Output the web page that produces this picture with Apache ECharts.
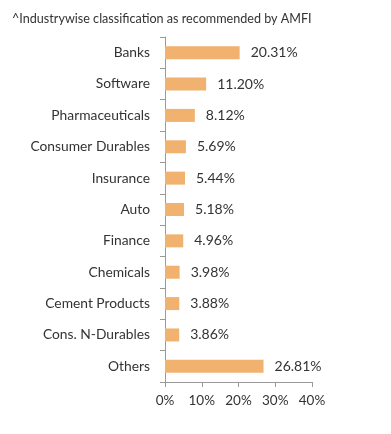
<!DOCTYPE html>
<html><head><meta charset="utf-8">
<script src="https://cdn.jsdelivr.net/npm/echarts@6/dist/echarts.min.js"></script>
<style>html,body{margin:0;padding:0;background:#fff}#c{width:391px;height:434px}</style>
</head><body><div id="c"></div>
<script>
const title = '^Industrywise classification as recommended by AMFI';
const categories = ['Banks','Software','Pharmaceuticals','Consumer Durables','Insurance','Auto','Finance','Chemicals','Cement Products','Cons. N-Durables','Others'];
const values = [20.31,11.20,8.12,5.69,5.44,5.18,4.96,3.98,3.88,3.86,26.81];
const xTicks = [0,10,20,30,40];

const chart = echarts.init(document.getElementById('c'));
chart.setOption({
  animation:false,
  title:{text:title,left:7,top:7,textStyle:{fontFamily:'Lato',fontSize:12.6,fontWeight:'normal',color:'#333'}},
  grid:{left:165,right:79,top:37,bottom:52,containLabel:false},
  xAxis:{type:'value',min:xTicks[0],max:xTicks[xTicks.length-1],interval:10,
    axisLine:{show:true,lineStyle:{color:'#999'}},
    axisTick:{show:true,length:5,lineStyle:{color:'#999'}},
    splitLine:{show:false},
    axisLabel:{formatter:'{value}%',fontFamily:'Lato',fontSize:13.5,color:'#333',margin:12}},
  yAxis:{type:'category',data:categories,inverse:true,
    axisLine:{show:true,lineStyle:{color:'#999'}},
    axisTick:{show:true,length:5,lineStyle:{color:'#999'}},
    axisLabel:{fontFamily:'Lato',fontSize:13.8,color:'#333',margin:15}},
  series:[{type:'bar',data:values,barWidth:13,
    itemStyle:{color:'#F0B26E'},
    label:{show:true,position:'right',distance:11,fontFamily:'Lato',fontSize:14,color:'#333',
      formatter:p=>p.value.toFixed(2)+'%'}}]
});
</script></body></html>
